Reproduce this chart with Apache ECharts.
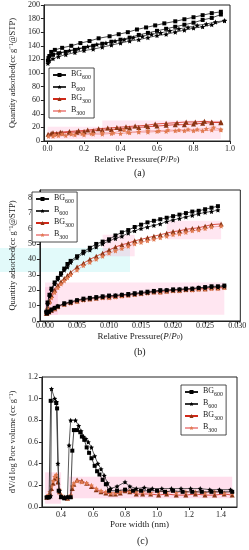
<!DOCTYPE html>
<html><head><meta charset="utf-8">
<script src="https://cdn.jsdelivr.net/npm/echarts@6/dist/echarts.min.js"></script>
<style>html,body{margin:0;padding:0;background:#fff}#c{width:249px;height:550px}</style>
</head><body><div id="c"></div>
<script>
// ---------- Panel (a): isotherms ----------
const aX_BG600_ads = [0.002,0.005,0.01,0.03,0.06,0.1,0.15,0.2,0.25,0.3,0.35,0.4,0.45,0.5,0.55,0.6,0.65,0.7,0.75,0.8,0.85,0.9,0.95];
const aY_BG600_ads = [118,122,125,127,129,131,134,137,140,143,146,149,152,156,159,162,165,168,171,174,178,181,186];
const aX_BG600_des = [0.95,0.9,0.85,0.8,0.75,0.7,0.64,0.59,0.54,0.49,0.44,0.39,0.34,0.28,0.23,0.18,0.13,0.08,0.04,0.02];
const aY_BG600_des = [190,188,185,182,179,176,173,170,167,164,160,157,154,151,147,144,140,137,134,131];
const aX_B600_ads = [0.002,0.01,0.03,0.06,0.1,0.15,0.2,0.25,0.3,0.35,0.4,0.45,0.5,0.55,0.6,0.65,0.7,0.75,0.8,0.85,0.9,0.97];
const aY_B600_ads = [114,118,121,124,127,130,133,135,138,141,144,147,149,152,155,157,160,163,166,168,171,177];
const aX_B600_des = [0.97,0.92,0.87,0.82,0.77,0.72,0.67,0.62,0.57,0.52,0.47,0.42,0.37,0.32,0.27,0.22,0.17,0.12,0.07,0.03];
const aY_B600_des = [177,175,172,170,167,165,162,159,157,154,152,149,147,144,142,139,136,133,130,127];
const aX_BG300_ads = [0.003,0.02,0.05,0.08,0.12,0.16,0.2,0.25,0.3,0.35,0.4,0.45,0.5,0.55,0.6,0.65,0.7,0.75,0.8,0.85,0.9,0.95];
const aY_BG300_ads = [10,11,11,12,13,13,14,15,16,17,18,19,20,21,22,23,24,24,25,26,27,28];
const aX_BG300_des = [0.95,0.9,0.86,0.81,0.76,0.71,0.65,0.59,0.54,0.48,0.43,0.38,0.33,0.28,0.22,0.17,0.12,0.07,0.03];
const aY_BG300_des = [27,28,29,28,28,27,26,25,23,22,21,20,19,18,16,15,14,13,12];
const aX_B300_ads = [0.005,0.03,0.06,0.1,0.15,0.2,0.25,0.3,0.35,0.4,0.45,0.5,0.55,0.6,0.65,0.7,0.75,0.8,0.85,0.9,0.95];
const aY_B300_ads = [7,7,8,8,9,9,10,10,11,11,12,13,13,14,14,15,15,15,15,16,16];
const aX_B300_des = [0.95,0.91,0.87,0.82,0.77,0.72,0.66,0.61,0.55,0.5,0.44,0.42,0.36,0.3,0.24,0.19,0.13,0.08,0.04];
const aY_B300_des = [17,20,18,17,17,16,16,15,15,14,13,16,12,12,11,11,10,10,9];
const aTicksX = [0,0.2,0.4,0.6,0.8,1.0];
const aTicksY = [0,20,40,60,80,100,120,140,160,180,200];

// ---------- Panel (b): low-pressure isotherms ----------
const bX_up = [0.0002,0.0004,0.0007,0.001,0.0015,0.002,0.0025,0.003,0.0035,0.004,0.005,0.006,0.007,0.008,0.009,0.010,0.011,0.012,0.013,0.014,0.015,0.016,0.017,0.018,0.019,0.020,0.021,0.022,0.023,0.024,0.025,0.026,0.027];
const bY_BG600_up = [6,12,17,21,25,28,31,34,37,39,42,45,47.5,50,51.5,53,55.5,57.5,59,61,62.5,64,65,66,67,68,69,70,71,71.5,72.5,73.5,74.5];
const bY_B600_up = [6,11,16,20,24,27,30,33,35,38,41,44,46,48,50,52,53.5,55,57,58.5,60,61,62,63,64.5,65.5,66.5,67.5,68.5,69.5,70.5,71,72];
const bX_r_up = [0.0002,0.0004,0.0007,0.001,0.0015,0.002,0.0025,0.003,0.0035,0.004,0.005,0.006,0.007,0.008,0.009,0.010,0.011,0.012,0.013,0.014,0.015,0.016,0.017,0.018,0.019,0.020,0.021,0.022,0.023,0.024,0.025,0.026,0.0275];
const bY_BG300_up = [5,9,13,16.5,20,23,25.5,27.5,29.5,31.5,35,37.5,40,42,44,46,48,49.5,50.5,52,53,54,55,56,57,58,58.5,59.5,60,60.5,61.5,62.5,63];
const bY_B300_up = [5,8,12,15,18.5,21.5,24,26,28,30,33,36,38,40,42,44,45.5,47,48.5,50,51,52,53,54,55,56,56.5,57.5,58.5,59,60,61,61.5];
const bX_low = [0.0003,0.0006,0.001,0.0015,0.002,0.003,0.004,0.005,0.006,0.007,0.008,0.009,0.010,0.011,0.012,0.013,0.014,0.015,0.016,0.017,0.018,0.019,0.020,0.021,0.022,0.023,0.024,0.025,0.026,0.027,0.028];
const bY_BG600_low = [5,6,7.5,8.5,9.5,11.5,12.5,13.5,14.5,15,15.5,16,16.5,16.5,17,17.5,18,18.5,19,19.5,20,20,20.5,20.5,21,21,21.5,22,22.5,22.5,23];
const bY_B600_low = [5,6,7,8.5,9.5,11,12,13.5,14,14.5,15,15.5,16,16.5,17,17,17.5,18,18.5,19,19.5,20,20,20.5,20.5,21,21.5,21.5,22,22,22.5];
const bY_BG300_low = [5,6,7,8,9.5,11,12,13,14,14.5,15,15.5,15.5,16,16.5,17,17.5,18,18.5,19,19,19.5,20,20,20.5,20.5,21,21,21.5,21.5,22];
const bY_B300_low = [5,5.5,7,8,9,10.5,11.5,12.5,13.5,14,14.5,15,15,15.5,16,16.5,17,17.5,18,18.5,18.5,19,19.5,19.5,20,20,20.5,20.5,21,21,21.5];
const bTicksX = [0,0.005,0.010,0.015,0.020,0.025,0.030];
const bTicksY = [0,10,20,30,40,50,60,70,80];

// ---------- Panel (c): pore size distribution ----------
const cX_BG600 = [0.31,0.325,0.335,0.37,0.375,0.385,0.40,0.42,0.44,0.46,0.47,0.48,0.50,0.52,0.53,0.545,0.56,0.575,0.59,0.61,0.625,0.64,0.66,0.68,0.70,0.75,0.80,0.85,0.90,0.95,1.00,1.05,1.10,1.16,1.22,1.28,1.34,1.40,1.47];
const cY_BG600 = [0.09,0.09,0.98,0.96,0.91,0.15,0.09,0.08,0.09,0.09,0.52,0.71,0.71,0.69,0.65,0.62,0.55,0.50,0.45,0.38,0.33,0.30,0.25,0.21,0.15,0.15,0.16,0.15,0.15,0.15,0.15,0.14,0.15,0.14,0.14,0.14,0.14,0.14,0.14];
const cX_B600 = [0.31,0.32,0.335,0.34,0.36,0.37,0.38,0.39,0.40,0.42,0.44,0.45,0.46,0.49,0.51,0.525,0.54,0.555,0.57,0.59,0.61,0.63,0.65,0.67,0.69,0.71,0.75,0.80,0.83,0.87,0.92,0.97,1.03,1.09,1.15,1.21,1.27,1.33,1.39,1.46];
const cY_B600 = [0.09,0.09,0.10,1.09,1.00,0.97,0.40,0.15,0.10,0.09,0.09,0.57,0.80,0.80,0.75,0.70,0.65,0.63,0.60,0.55,0.47,0.40,0.35,0.29,0.22,0.17,0.19,0.23,0.19,0.17,0.18,0.17,0.17,0.17,0.17,0.17,0.17,0.16,0.16,0.16];
const cX_300 = [0.31,0.32,0.33,0.34,0.35,0.36,0.37,0.38,0.39,0.40,0.42,0.44,0.46,0.47,0.48,0.50,0.53,0.56,0.59,0.62,0.65,0.68,0.71,0.74,0.77,0.80,0.83,0.87,0.91,0.96,1.01,1.06,1.12,1.18,1.24,1.30,1.36,1.42,1.47];
const cY_BG300 = [0.09,0.10,0.13,0.17,0.22,0.26,0.28,0.23,0.14,0.10,0.09,0.08,0.10,0.17,0.21,0.25,0.24,0.22,0.19,0.16,0.14,0.13,0.12,0.12,0.13,0.15,0.14,0.12,0.12,0.12,0.11,0.12,0.11,0.11,0.12,0.11,0.11,0.12,0.11];
const cY_B300 = [0.09,0.11,0.14,0.19,0.24,0.28,0.30,0.26,0.16,0.11,0.09,0.08,0.11,0.19,0.22,0.24,0.23,0.22,0.20,0.17,0.15,0.14,0.13,0.13,0.14,0.16,0.15,0.14,0.14,0.13,0.14,0.14,0.13,0.14,0.14,0.13,0.14,0.13,0.13];
const cTicksX = [0.4,0.6,0.8,1.0,1.2,1.4];
const cTicksY = [0,0.2,0.4,0.6,0.8,1.0,1.2];

const seriesNames = ['BG600','B600','BG300','B300'];
const nameParts = {BG600:['BG','600'],B600:['B','600'],BG300:['BG','300'],B300:['B','300']};

const FONT = "'Liberation Serif','Times New Roman',serif";
const STAR = 'path://M0,-10L2.9,-4L9.5,-3.1L4.7,1.5L5.9,8.1L0,5L-5.9,8.1L-4.7,1.5L-9.5,-3.1L-2.9,-4Z';
const STY = {
  BG600:{symbol:'rect',size:4,color:'#000',line:'#1a1a1a'},
  B600:{symbol:STAR,size:5,color:'#000',line:'#333'},
  BG300:{symbol:'triangle',size:5,color:'#8a3514',line:'#d02818'},
  B300:{symbol:STAR,size:5,color:'#e07a50',line:'#f09a9a'}
};
function zip(xs,ys){return xs.map((x,i)=>[x,ys[i]]);}
function mk(name,xs,ys,g,extra){
  const s=STY[name];
  return Object.assign({type:'line',name:name,xAxisIndex:g,yAxisIndex:g,data:zip(xs,ys),
    symbol:s.symbol,symbolSize:s.size,showSymbol:true,
    itemStyle:{color:s.color},lineStyle:{color:s.line,width:0.8},z:name.indexOf('600')>=0?4:3},extra||{});
}
const pinkA='rgba(255,140,190,0.22)';
const series=[
  mk('BG600',aX_BG600_ads,aY_BG600_ads,0), mk('BG600',aX_BG600_des,aY_BG600_des,0),
  mk('B600',aX_B600_ads,aY_B600_ads,0), mk('B600',aX_B600_des,aY_B600_des,0),
  mk('BG300',aX_BG300_ads,aY_BG300_ads,0,{markArea:{silent:true,itemStyle:{color:pinkA},data:[[{coord:[0,3]},{coord:[0.95,21]}],[{coord:[0.3,21]},{coord:[0.95,30]}]]}}),
  mk('BG300',aX_BG300_des,aY_BG300_des,0),
  mk('B300',aX_B300_ads,aY_B300_ads,0), mk('B300',aX_B300_des,aY_B300_des,0),

  mk('BG600',bX_up,bY_BG600_up,1), mk('B600',bX_up,bY_B600_up,1),
  mk('BG300',bX_r_up,bY_BG300_up,1,{markArea:{silent:true,itemStyle:{color:pinkA},data:[[{coord:[0,4]},{coord:[0.028,25]}],[{coord:[0.009,42]},{coord:[0.014,56]}],[{coord:[0.019,53]},{coord:[0.0275,65]}],[{coord:[0,4]},{coord:[0.002,22]}]]}}),
  mk('B300',bX_r_up,bY_B300_up,1),
  mk('BG600',bX_low,bY_BG600_low,1), mk('B600',bX_low,bY_B600_low,1),
  mk('BG300',bX_low,bY_BG300_low,1), mk('B300',bX_low,bY_B300_low,1),

  mk('BG600',cX_BG600,cY_BG600,2), mk('B600',cX_B600,cY_B600,2),
  mk('BG300',cX_300,cY_BG300,2,{markArea:{silent:true,itemStyle:{color:'rgba(255,140,190,0.28)'},data:[[{coord:[0.30,0.03]},{coord:[0.40,0.32]}],[{coord:[0.45,0.08]},{coord:[1.47,0.28]}]]}}),
  mk('B300',cX_300,cY_B300,2)
];

const axCommon = {
  axisLine:{show:true,onZero:false,lineStyle:{color:'#222',width:1}},
  splitLine:{show:false},
};
const richName = {
  n:{fontFamily:FONT,fontSize:9,color:'#222'},
  i:{fontFamily:FONT,fontSize:9,fontStyle:'italic',color:'#222'},
  s:{fontFamily:FONT,fontSize:6,fontStyle:'italic',color:'#222',verticalAlign:'bottom',lineHeight:8,padding:[4,0,0,0]},
  y:{fontFamily:FONT,fontSize:8.5,color:'#222'}
};
function xAx(g,min,max,ticks,dec,name,gap,lblMargin){
  return Object.assign({type:'value',gridIndex:g,min:min,max:max,
    axisTick:{show:true,inside:false,length:3,lineStyle:{color:'#222'},customValues:ticks},
    axisLabel:{customValues:ticks,fontSize:8,fontFamily:FONT,color:'#222',margin:lblMargin,formatter:v=>v.toFixed(dec)},
    name:name,nameLocation:'middle',nameGap:gap,
    nameTextStyle:{fontFamily:FONT,fontSize:9,color:'#222',rich:richName}},axCommon);
}
function yAx(g,min,max,ticks,dec,name,gap){
  return Object.assign({type:'value',gridIndex:g,min:min,max:max,
    axisTick:{show:true,inside:false,length:3,lineStyle:{color:'#222'},customValues:ticks},
    axisLabel:{customValues:ticks,fontSize:8,fontFamily:FONT,color:'#222',margin:4,formatter:v=>v.toFixed(dec)},
    name:name,nameLocation:'middle',nameGap:gap,
    nameTextStyle:{fontFamily:FONT,fontSize:8.5,color:'#222',rich:richName}},axCommon);
}
const presName = '{n|Relative Pressure(}{i|P}{n|/}{i|P}{s|0}{n|)}';

function legend(left,top){
  return {show:true,orient:'vertical',left:left,top:top,data:seriesNames,
    backgroundColor:'#fff',borderColor:'#222',borderWidth:0.8,padding:[2,3,2,3],
    itemGap:2,itemWidth:13,itemHeight:5,
    formatter:n=>'{a|'+nameParts[n][0]+'}{b|'+nameParts[n][1]+'}',
    textStyle:{fontFamily:FONT,color:'#222',rich:{
      a:{fontFamily:FONT,fontSize:8,color:'#222',lineHeight:10,verticalAlign:'top'},
      b:{fontFamily:FONT,fontSize:6,color:'#222',lineHeight:10,verticalAlign:'bottom',padding:[4,0,0,0]}}},
    selectedMode:false};
}

const option = {
  animation:false,
  backgroundColor:'#fff',
  grid:[
    {left:40,top:5,width:190,height:136,show:true,borderColor:'#222',borderWidth:1},
    {left:32,top:190,width:211,height:131,show:true,borderColor:'#222',borderWidth:1},
    {left:37,top:377,width:200,height:130,show:true,borderColor:'#222',borderWidth:1}
  ],
  xAxis:[
    xAx(0,-0.02,1.0,aTicksX,1,presName,13,4),
    xAx(1,-0.0008,0.0305,bTicksX,3,presName,8,1),
    xAx(2,0.28,1.5,cTicksX,1,'{n|Pore width (nm)}',10,4)
  ],
  yAxis:[
    yAx(0,0,200,aTicksY,0,'{y|Quantity adsorbed(cc g\u207B\u00B9@STP)}',18),
    yAx(1,0,85,bTicksY,0,'{y|Quantity adsorbed(cc g\u207B\u00B9@STP)}',17),
    yAx(2,0,1.2,cTicksY,1,'{y|dV/d log Pore volume (cc g\u207B\u00B9)}',20)
  ],
  legend:[legend(49,68),legend(32,192),legend(181,385)],
  graphic:[
    {type:'rect',z:-1,shape:{x:0,y:248,width:130,height:24},style:{fill:'rgba(190,245,245,0.45)'}},
    {type:'text',left:134,top:168,style:{text:'(a)',font:'10px '+FONT,fill:'#222'}},
    {type:'text',left:134,top:347,style:{text:'(b)',font:'10px '+FONT,fill:'#222'}},
    {type:'text',left:137,top:536,style:{text:'(c)',font:'10px '+FONT,fill:'#222'}}
  ],
  series:series
};
const chart = echarts.init(document.getElementById('c'),null,{renderer:'canvas'});
chart.setOption(option);
</script></body></html>
